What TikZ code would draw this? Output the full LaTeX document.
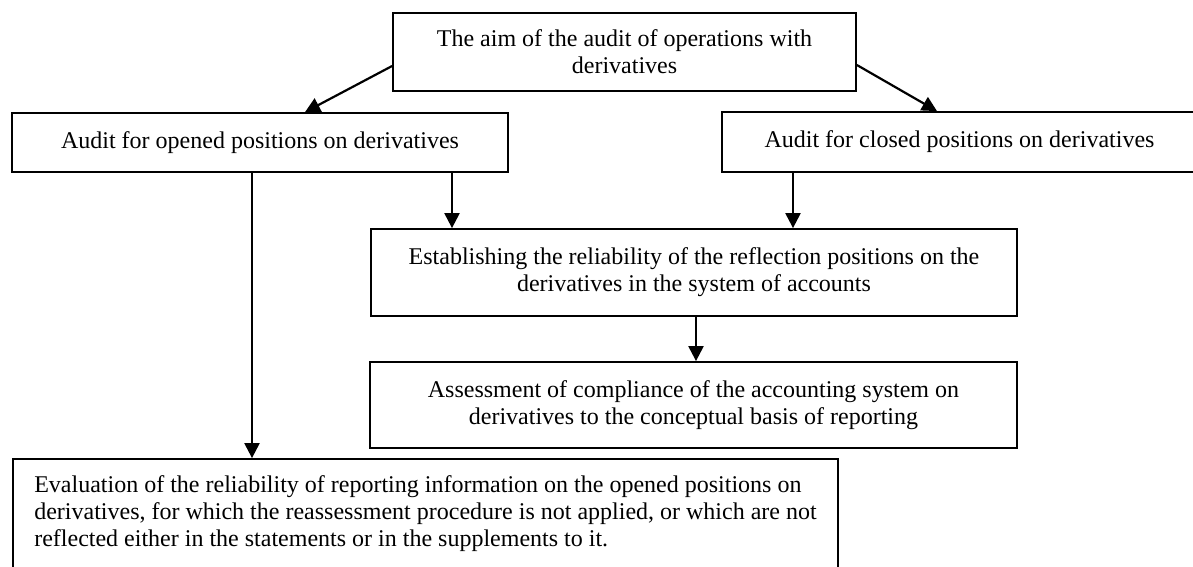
\documentclass[tikz,border=0pt]{standalone}
\usepackage{fontspec}
\setmainfont{Liberation Serif}
\usetikzlibrary{arrows.meta}
\begin{document}
\begin{tikzpicture}[x=1pt,y=-1pt,
  box/.style={draw, line width=1.8pt, inner sep=0pt, align=center, font=\fontsize{24}{27}\selectfont},
  arr/.style={line width=2.2pt, -{Triangle[length=15pt,width=15pt]}}]
\useasboundingbox (0,0) rectangle (1193,566);
\clip (0,0) rectangle (1193,566);
\fill[white] (0,0) rectangle (1193,566);
\node[box, minimum width=463pt, minimum height=78pt] (aim) at (624.5,52)
  {The aim of the audit of operations with\\derivatives};
\node[box, minimum width=496pt, minimum height=59pt] (opened) at (260,142.5)
  {Audit for opened positions on derivatives};
\node[box, minimum width=475pt, minimum height=60pt] (closed) at (959.5,142)
  {Audit for closed positions on derivatives};
\node[box, minimum width=646pt, minimum height=87pt] (establishing) at (694,272.5)
  {Establishing the reliability of the reflection positions on the\\derivatives in the system of accounts};
\node[box, minimum width=647pt, minimum height=86pt] (assessment) at (693.5,405)
  {Assessment of compliance of the accounting system on\\derivatives to the conceptual basis of reporting};
\node[box, align=left, minimum width=825pt, minimum height=110pt] (evaluation) at (425.5,514)
  {Evaluation of the reliability of reporting information on the opened positions on\\derivatives, for which the reassessment procedure is not applied, or which are not\\reflected either in the statements or in the supplements to it.};
\draw[arr] ([yshift=-14pt]aim.west) -- ([xshift=45pt]opened.north);
\draw[arr] ([yshift=-13pt]aim.east) -- ([xshift=-22.5pt]closed.north);
\draw[arr] ([xshift=-8pt]opened.south) -- ([xshift=-8pt]opened.south |- evaluation.north);
\draw[arr] ([xshift=192pt]opened.south) -- ([xshift=192pt]opened.south |- establishing.north);
\draw[arr] ([xshift=-166.5pt]closed.south) -- ([xshift=-166.5pt]closed.south |- establishing.north);
\draw[arr] ([xshift=2pt]establishing.south) -- ([xshift=2pt]establishing.south |- assessment.north);
\end{tikzpicture}
\end{document}
